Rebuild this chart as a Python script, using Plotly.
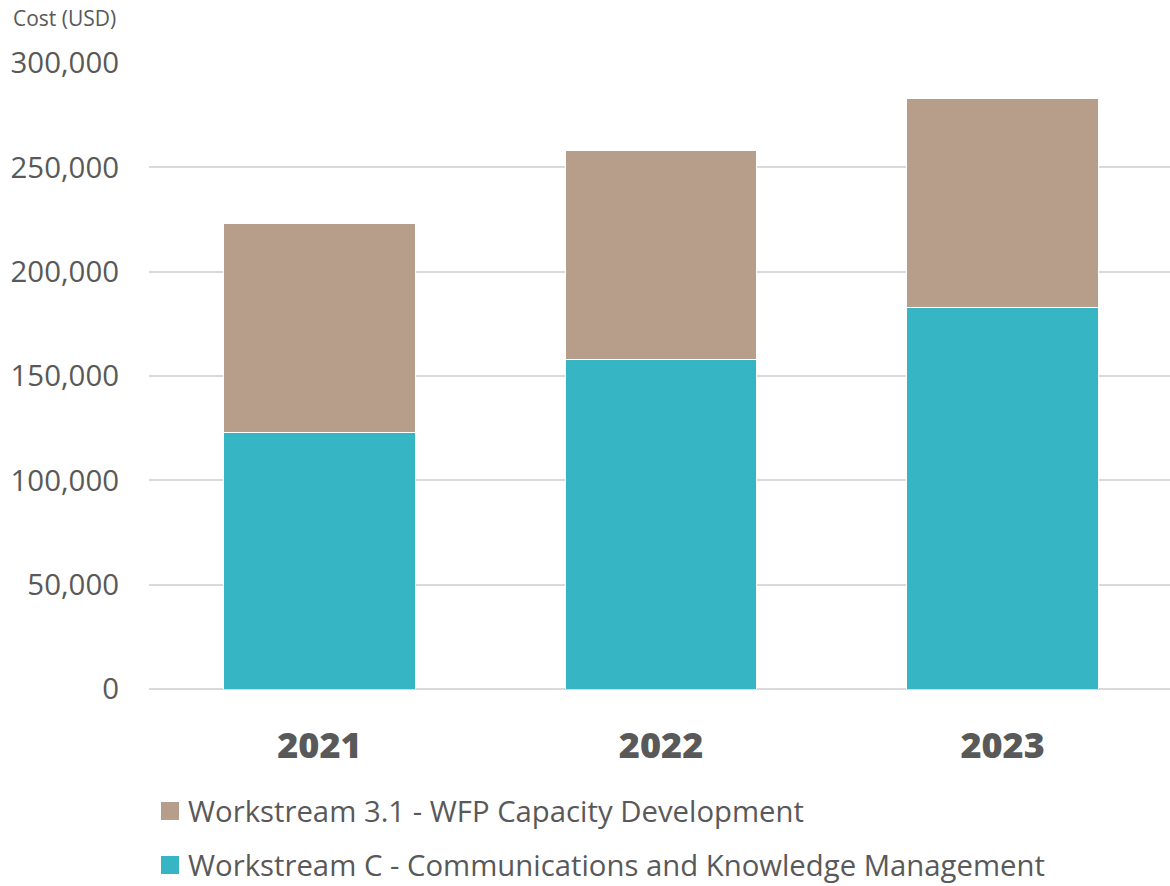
import plotly.graph_objects as go

# Annual cost by workstream (USD)
years = ["2021", "2022", "2023"]
comms_km = [123000, 158000, 183000]          # Workstream C
capacity_dev = [100000, 100000, 100000]      # Workstream 3.1
tick_vals = [0, 50000, 100000, 150000, 200000, 250000, 300000]
tick_text = ["0", "50,000", "100,000", "150,000", "200,000", "250,000", "300,000"]

series_names = [
    "Workstream 3.1 - WFP Capacity Development",
    "Workstream C - Communications and Knowledge Management",
]

TEAL = "#36B5C5"
TAUPE = "#B69E8B"
TEXT = "#595959"
GRID = "#D9D9D9"
FONT = "Open Sans"

W, H = 1170, 886
L, R, T, B = 149, 0, 63, 197
plot_w = W - L - R
plot_h = H - T - B

fig = go.Figure()
fig.add_trace(go.Bar(x=years, y=comms_km, name=series_names[1], width=0.56,
                     marker=dict(color=TEAL, line=dict(color="white", width=1)),
                     showlegend=False))
fig.add_trace(go.Bar(x=years, y=capacity_dev, name=series_names[0], width=0.56,
                     marker=dict(color=TAUPE, line=dict(color="white", width=1)),
                     showlegend=False))


def px_to_paper_x(px):
    return (px - L) / plot_w


def px_to_paper_y(py):
    return (H - B - py) / plot_h


# Legend drawn as swatches + labels
legend_rows = [(series_names[0], TAUPE, 811), (series_names[1], TEAL, 865)]
shapes = []
annotations = []
for label, color, cy in legend_rows:
    shapes.append(dict(type="rect", xref="paper", yref="paper",
                       x0=px_to_paper_x(161), x1=px_to_paper_x(179),
                       y0=px_to_paper_y(cy + 9), y1=px_to_paper_y(cy - 9),
                       fillcolor=color, line=dict(width=0)))
    annotations.append(dict(text=label, xref="paper", yref="paper",
                            x=px_to_paper_x(186), y=px_to_paper_y(cy),
                            xanchor="left", yanchor="middle", showarrow=False,
                            font=dict(family=FONT, size=29.3, color=TEXT)))

annotations.append(dict(text="Cost (USD)", xref="paper", yref="paper",
                        x=px_to_paper_x(11), y=px_to_paper_y(18),
                        xanchor="left", yanchor="middle", showarrow=False,
                        font=dict(family=FONT, size=21, color=TEXT)))

fig.update_layout(
    width=W, height=H,
    margin=dict(l=L, r=R, t=T, b=B, pad=0),
    barmode="stack",
    plot_bgcolor="white", paper_bgcolor="white",
    showlegend=False,
    shapes=shapes, annotations=annotations,
    xaxis=dict(showgrid=False, showline=False, ticks="", zeroline=False,
               range=[-0.499, 2.490],
               tickfont=dict(family=FONT, size=36, color=TEXT, weight=800),
               ticklabelstandoff=32),
    yaxis=dict(range=[0, 300000], tickvals=tick_vals, ticktext=tick_text,
               showgrid=True, gridcolor=GRID, gridwidth=2,
               zeroline=True, zerolinecolor=GRID, zerolinewidth=2,
               showline=False, ticks="",
               tickfont=dict(family=FONT, size=29.4, color=TEXT),
               ticklabelstandoff=29),
)

fig.write_html("out.html")
